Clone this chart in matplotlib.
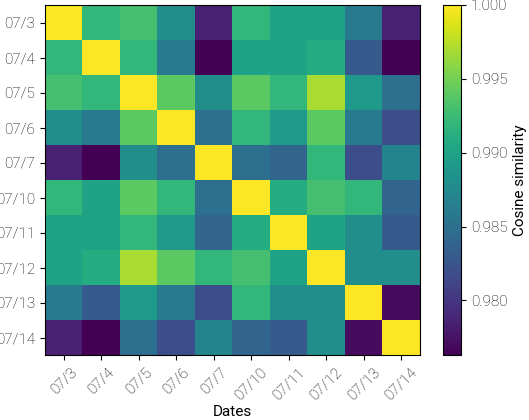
import numpy as np
import matplotlib
matplotlib.use("Agg")
import matplotlib.pyplot as plt

dates = ['07/3', '07/4', '07/5', '07/6', '07/7', '07/10', '07/11', '07/12', '07/13', '07/14']
# upper triangle rows of the similarity matrix (diagonal = 1)
upper = [
    [1, .992, .993, .988, .9785, .992, .990, .990, .986, .9785],
    [1, .992, .986, .9763, .990, .990, .991, .983, .9763],
    [1, .994, .988, .994, .992, .997, .989, .985],
    [1, .985, .992, .989, .994, .986, .982],
    [1, .985, .984, .992, .982, .987],
    [1, .991, .993, .992, .984],
    [1, .990, .988, .983],
    [1, .988, .988],
    [1, .977],
    [1],
]

n = len(dates)
sim = np.zeros((n, n))
for i, row in enumerate(upper):
    sim[i, i:] = row
    sim[i:, i] = row

plt.rcParams['font.family'] = ['Roboto', 'DejaVu Sans']
plt.rcParams['font.weight'] = 'light'
fig = plt.figure(figsize=(5.29, 4.2), dpi=100)
ax = fig.add_axes([45 / 529, 65 / 420, 375 / 529, 350 / 420])
cax = fig.add_axes([443 / 529, 65 / 420, 18 / 529, 350 / 420])
im = ax.imshow(sim, cmap='viridis', vmin=0.9763, vmax=1.0, aspect='auto')
ax.set_xticks(range(n))
ax.set_xticklabels(dates, rotation=45, fontsize=11)
ax.set_yticks(range(n))
ax.set_yticklabels(dates, fontsize=11)
ax.set_xlabel('Dates', fontsize=11, labelpad=2)
ax.set_ylabel('Dates', fontsize=11, labelpad=2)
cb = fig.colorbar(im, cax=cax)
cb.set_ticks([0.980, 0.985, 0.990, 0.995, 1.000])
cb.ax.tick_params(labelsize=11)
cb.set_label('Cosine similarity', fontsize=11)
plt.savefig('out.png')
